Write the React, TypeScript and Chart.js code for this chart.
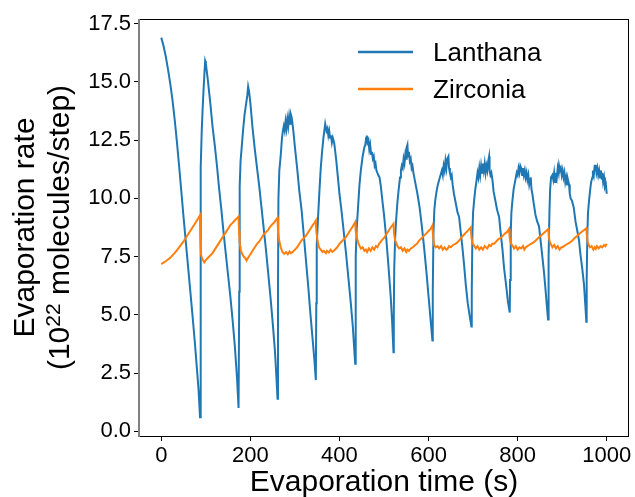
import React, { useEffect, useRef } from "react";
import { Chart, registerables } from "chart.js";

Chart.register(...registerables);

const lanthanaTime = [
  0, 5, 10, 15, 20, 25, 30, 35, 40, 45, 50, 55, 60, 65, 70, 75, 80, 84, 87,
  88, 89, 91, 93, 95, 97, 98.5,
  100, 105, 110, 115, 120, 125, 130, 135, 140, 145, 150, 155, 160, 165, 170, 173.5,
  175, 176, 178, 181, 184, 187, 190, 193, 195,
  197, 200, 205, 210, 215, 220, 225, 230, 235, 240, 245, 250, 255, 258, 261,
  262, 263, 265, 268, 271, 273, 275, 277, 279, 281, 283, 285, 287, 289, 291, 292.5,
  294, 297, 300, 305, 310, 315, 320, 325, 330, 335, 340, 344, 347,
  348, 349, 352, 355, 358, 361, 364, 366, 368, 369.5, 371, 373, 375, 377, 379, 381, 383, 385, 388,
  390, 393, 396, 400, 405, 410, 415, 420, 425, 430, 433, 435.3,
  436, 437, 439, 442, 445, 448, 450, 452, 454, 456, 458, 460, 461.5, 463, 465, 467, 469, 471, 473, 475, 477, 479, 481, 483, 485, 487,
  490, 493, 497, 500, 505, 510, 515, 518, 521.3,
  522, 523, 525, 527, 530, 533, 536, 538, 540, 542, 544, 546, 548, 550, 551, 552.6, 554, 556, 558, 560, 562, 564, 566, 568, 570, 572,
  575, 580, 585, 590, 595, 600, 605, 608.7,
  609.5, 611, 613, 615, 618, 621, 624, 627, 630, 632, 634, 636, 638, 640, 642, 644.6, 646, 648, 650, 652, 654,
  657, 661, 665, 668.6, 672, 676, 680, 683.6, 688, 692, 696.2,
  697, 698.5, 700, 702.3, 705, 708, 710, 712, 714, 716, 718, 720, 722, 724, 726, 728, 730, 732, 734, 735.9, 737, 739, 741, 743.4,
  746, 750, 754, 758.4, 762, 766, 769.6, 774, 778, 782.3,
  783, 784.5, 786, 788.3, 791, 794, 796, 798, 800, 802, 804, 806, 808, 810, 812, 814, 816, 818, 820, 822, 824, 826, 828, 829.5, 831, 833,
  836, 840, 844, 848, 852, 856, 859.3, 863, 866, 868.3,
  869, 870, 871.5, 873, 875, 878, 880, 882, 884, 886, 888, 890, 892, 893, 895, 897, 899, 901, 903, 905, 907, 909, 911, 913, 915.4, 917, 919,
  922, 926, 930, 934, 937.8, 941, 945, 949, 952, 954.2,
  955, 956.5, 958, 960.3, 963, 965, 967.7, 969, 971, 973, 975.3, 977, 979, 981, 983, 985, 987, 989, 990.2, 992, 994, 996, 998, 1000,
];

const lanthanaRate = [
  16.9, 16.55, 16.1, 15.55, 14.95, 14.25, 13.4, 12.45, 11.4, 10.3, 9.2, 8.15, 7.1, 6.05, 5.0, 3.9, 2.7, 1.7, 0.6,
  5.0, 11.3, 13.0, 13.9, 14.7, 15.4, 15.9,
  15.8, 15.0, 14.1, 13.1, 12.3, 11.4, 10.4, 9.5, 8.5, 7.6, 6.7, 5.8, 4.8, 3.7, 2.3, 1.0,
  6.0, 10.5, 11.6, 12.3, 13.0, 13.6, 14.0, 14.4, 14.8,
  14.6, 14.1, 13.0, 12.1, 11.3, 10.5, 9.6, 8.7, 7.8, 6.8, 5.8, 4.7, 3.5, 2.5, 1.4,
  6.0, 10.0, 11.2, 11.8, 12.6, 12.9, 13.1, 12.9, 13.3, 13.0, 13.4, 13.1, 13.5, 13.2, 13.6, 13.5,
  13.3, 12.8, 12.2, 11.3, 10.3, 9.5, 8.4, 7.3, 6.2, 5.0, 3.9, 3.0, 2.2,
  5.5, 8.0, 9.2, 10.3, 11.3, 12.0, 12.6, 12.9, 13.2, 13.2, 12.9, 13.0, 12.7, 12.9, 12.6, 12.7, 12.4, 12.6, 12.4,
  12.1, 11.6, 11.0, 10.2, 9.4, 8.5, 7.6, 6.6, 5.6, 4.5, 3.6, 2.9,
  5.0, 7.5, 8.8, 9.7, 10.6, 11.2, 11.5, 11.8, 12.0, 12.2, 12.3, 12.6, 12.7, 12.4, 12.5, 12.1, 12.3, 11.9, 12.0, 11.7, 11.8, 11.4, 11.5, 11.2, 11.1, 11.0,
  10.9, 10.5, 9.8, 9.3, 8.3, 7.1, 5.8, 4.8, 3.4,
  5.0, 7.0, 8.3, 9.0, 9.8, 10.4, 10.9, 11.2, 11.4, 11.3, 11.7, 11.5, 11.9, 11.7, 12.2, 12.3, 11.8, 12.0, 11.6, 11.7, 11.3, 11.4, 11.1, 10.9, 10.7, 10.5,
  10.2, 9.6, 8.8, 7.9, 6.9, 5.8, 4.7, 3.9,
  6.0, 8.5, 9.5, 9.9, 10.3, 10.6, 10.8, 11.0, 11.2, 11.0, 11.4, 11.2, 11.6, 11.3, 11.7, 11.8, 11.3, 11.1, 10.9, 11.0, 10.6,
  10.2, 9.8, 9.4, 9.2, 8.6, 7.9, 7.1, 6.3, 5.5, 5.0, 4.5,
  6.0, 8.5, 9.4, 9.9, 10.4, 10.8, 11.1, 10.9, 11.3, 11.0, 11.4, 11.1, 11.5, 11.2, 11.5, 11.1, 11.4, 11.2, 11.6, 11.8, 11.2, 11.0, 11.1, 10.8,
  10.3, 9.9, 9.5, 9.2, 8.5, 7.8, 7.0, 6.3, 5.6, 5.1,
  6.5, 8.5, 9.4, 9.9, 10.4, 10.7, 10.9, 11.1, 11.0, 11.3, 11.1, 11.4, 11.3, 11.0, 11.3, 11.0, 11.2, 10.9, 11.1, 10.8, 11.0, 10.6, 10.8, 10.9, 10.4, 10.2,
  9.8, 9.3, 9.0, 8.8, 8.1, 7.4, 6.8, 6.0, 5.3, 4.8,
  6.5, 7.5, 9.5, 10.4, 10.9, 11.0, 10.8, 11.1, 10.7, 11.1, 10.9, 11.3, 11.1, 11.4, 11.2, 11.3, 11.0, 11.2, 10.9, 11.1, 10.7, 10.9, 10.6, 10.8, 10.6, 10.2, 10.0,
  9.9, 9.6, 9.0, 8.6, 8.2, 7.6, 7.0, 6.3, 5.4, 4.7,
  6.5, 8.5, 9.4, 9.9, 10.4, 10.7, 10.9, 11.2, 11.0, 11.4, 11.4, 11.1, 11.3, 11.0, 11.2, 10.9, 11.2, 10.8, 11.1, 10.7, 10.9, 10.5, 10.6, 10.2,
];

const zirconiaTime = [
  0, 10, 20, 30, 40, 50, 60, 70, 80, 86.8,
  87.5, 89, 92, 96.5,
  100, 105, 110, 115, 120, 125, 130, 135, 140, 145, 150, 155, 160, 165, 170, 173.5,
  174.5, 176, 178.8, 182, 185, 188, 190, 192,
  195, 200, 205, 210, 215, 220, 225, 230, 235, 240, 245, 250, 255, 261,
  262, 264.7, 268, 272, 276, 280, 284, 288, 291, 294.6,
  300, 305, 310, 315, 320, 325, 330, 335, 340, 344, 347,
  348, 350.7, 354, 358, 362, 365, 369.5, 372, 376, 380, 384, 388,
  395, 400, 405, 410, 414.4, 420, 425, 430, 435.3,
  436.5, 440.5, 444, 448, 452, 456, 459.3, 462, 466, 470, 474, 478, 482, 485.3,
  489, 495, 500, 505, 510, 515, 521.3,
  522.5, 525, 530, 534, 538, 542, 546, 550, 552.6, 556, 560, 565, 570, 574, 578.8,
  585, 590, 595, 600, 605, 608.7,
  610, 612.5, 616, 620, 624, 628, 632, 636, 640, 642.4, 646, 650, 655, 660, 664, 668.6, 675, 680, 685, 690, 694.9,
  696, 698, 702.3, 706, 710, 714, 718, 722, 726, 728.5, 732, 736, 740, 743, 747, 752, 757, 762, 767, 772, 776, 780.8,
  782, 784, 788.3, 792, 796, 800, 804, 808, 812, 815, 818.3, 822, 826, 830, 835, 840.7, 846, 852, 858, 864, 869,
  870, 872, 874.3, 878, 882, 886, 890, 894, 898, 900.4, 904, 908, 912, 917, 922.9, 928, 934, 940, 946, 950, 954.2,
  955.5, 957, 958.8, 962, 966, 970, 973, 975.3, 978, 982, 986, 990, 994, 997, 1000,
];

const zirconiaRate = [
  7.18, 7.3, 7.45, 7.65, 7.9, 8.15, 8.45, 8.75, 9.05, 9.27,
  8.3, 7.6, 7.4, 7.25,
  7.35, 7.45, 7.55, 7.65, 7.8, 7.95, 8.1, 8.25, 8.4, 8.55, 8.7, 8.85, 8.95, 9.05, 9.15, 9.22,
  8.6, 8.1, 7.76, 7.6, 7.5, 7.45, 7.38, 7.35,
  7.45, 7.6, 7.75, 7.9, 8.05, 8.15, 8.3, 8.45, 8.55, 8.65, 8.8, 8.9, 9.0, 9.17,
  8.6, 8.2, 7.9, 7.7, 7.62, 7.7, 7.6, 7.72, 7.65, 7.69,
  7.8, 7.9, 8.05, 8.2, 8.3, 8.4, 8.55, 8.7, 8.85, 8.95, 9.05,
  8.6, 8.2, 7.9, 7.8, 7.7, 7.75, 7.65, 7.75, 7.68, 7.8, 7.7, 7.76,
  7.9, 8.05, 8.15, 8.25, 8.33, 8.5, 8.65, 8.8, 8.98,
  8.6, 8.2, 8.0, 7.85, 7.9, 7.75, 7.8, 7.7, 7.85, 7.75, 7.9, 7.8, 7.95, 7.9,
  8.05, 8.2, 8.3, 8.45, 8.6, 8.75, 8.91,
  8.5, 8.2, 7.97, 7.85, 7.9, 7.75, 7.85, 7.7, 7.8, 7.75, 7.85, 7.9, 8.0, 8.05, 8.19,
  8.3, 8.4, 8.5, 8.6, 8.7, 8.84,
  8.4, 8.0, 7.9, 7.95, 7.85, 7.95, 7.8, 7.9, 7.8, 7.83, 7.95, 7.9, 8.0, 8.05, 8.1, 8.19, 8.35, 8.45, 8.55, 8.65, 8.76,
  8.4, 8.1, 7.97, 7.85, 7.95, 7.8, 7.9, 7.8, 7.95, 7.9, 7.85, 8.0, 7.95, 8.05, 8.05, 8.15, 8.25, 8.3, 8.4, 8.5, 8.55, 8.69,
  8.35, 8.1, 7.97, 7.85, 7.95, 7.8, 7.9, 7.85, 7.95, 7.8, 7.9, 7.95, 8.0, 8.05, 8.1, 8.19, 8.3, 8.4, 8.5, 8.6, 8.69,
  8.35, 8.15, 8.05, 7.9, 8.0, 7.85, 7.95, 7.8, 7.9, 7.9, 7.95, 8.0, 8.05, 8.1, 8.19, 8.3, 8.4, 8.5, 8.6, 8.65, 8.72,
  8.4, 8.15, 8.05, 7.9, 7.95, 7.8, 7.9, 7.83, 7.95, 7.85, 7.95, 7.9, 8.0, 7.95, 8.05,
];

const xTickValues = [0, 200, 400, 600, 800, 1000];
const yTickValues = [0, 2.5, 5, 7.5, 10, 12.5, 15, 17.5];
const seriesNames = ["Lanthana", "Zirconia"];
const seriesColors = ["#1f77b4", "#ff7f0e"];
const xTitle = "Evaporation time (s)";
const yTitleLine1 = "Evaporation rate";

const FONT = "'Liberation Sans', Arial, Helvetica, sans-serif";

const overlayPlugin = {
  id: "overlay",
  afterDraw(chart: any) {
    const ctx = chart.ctx as CanvasRenderingContext2D;
    const a = chart.chartArea;
    ctx.save();
    // spines
    ctx.lineWidth = 1;
    ctx.strokeStyle = "#000";
    ctx.beginPath();
    ctx.moveTo(a.left, a.top + 0.5);
    ctx.lineTo(a.right, a.top + 0.5);
    ctx.moveTo(a.right - 0.5, a.top);
    ctx.lineTo(a.right - 0.5, a.bottom);
    ctx.moveTo(a.left, a.bottom + 0.5);
    ctx.lineTo(a.right, a.bottom + 0.5);
    ctx.stroke();
    ctx.strokeStyle = "#808080";
    ctx.lineWidth = 2;
    ctx.beginPath();
    ctx.moveTo(a.left, a.top);
    ctx.lineTo(a.left, a.bottom + 1);
    ctx.stroke();

    // x title
    ctx.fillStyle = "#000";
    ctx.font = `30px ${FONT}`;
    ctx.textAlign = "center";
    ctx.textBaseline = "alphabetic";
    ctx.fillText(xTitle, (a.left + a.right) / 2, 491);

    // y title
    const cy = (a.top + a.bottom) / 2;
    ctx.save();
    ctx.translate(0, cy);
    ctx.rotate(-Math.PI / 2);
    ctx.textAlign = "center";
    ctx.font = `30px ${FONT}`;
    ctx.fillText(yTitleLine1, 0, 34);
    const p1 = "(10";
    const p2 = "22";
    const p3 = " molecules/step)";
    ctx.font = `30px ${FONT}`;
    const w1 = ctx.measureText(p1).width;
    const w3 = ctx.measureText(p3).width;
    ctx.font = `21px ${FONT}`;
    const w2 = ctx.measureText(p2).width;
    let sx = -(w1 + w2 + w3) / 2;
    ctx.textAlign = "left";
    ctx.font = `30px ${FONT}`;
    ctx.fillText(p1, sx, 69);
    sx += w1;
    ctx.font = `21px ${FONT}`;
    ctx.fillText(p2, sx, 60);
    sx += w2;
    ctx.font = `30px ${FONT}`;
    ctx.fillText(p3, sx, 69);
    ctx.restore();

    // legend
    const ly = [52, 89];
    for (let i = 0; i < 2; i++) {
      ctx.strokeStyle = seriesColors[i];
      ctx.lineWidth = 2.5;
      ctx.beginPath();
      ctx.moveTo(358, ly[i]);
      ctx.lineTo(413, ly[i]);
      ctx.stroke();
      ctx.fillStyle = "#000";
      ctx.font = `26px ${FONT}`;
      ctx.textAlign = "left";
      ctx.textBaseline = "alphabetic";
      ctx.fillText(seriesNames[i], 433, ly[i] + 9);
    }
    ctx.restore();
  },
};

export default function App() {
  const ref = useRef<HTMLCanvasElement | null>(null);
  useEffect(() => {
    document.body.style.margin = "0";
    const canvas = ref.current;
    if (!canvas) return;
    const lanthana = lanthanaTime.map((t, i) => ({ x: t, y: lanthanaRate[i] }));
    const zirconia = zirconiaTime.map((t, i) => ({ x: t, y: zirconiaRate[i] }));
    const chart = new Chart(canvas, {
      type: "line",
      data: {
        datasets: [
          {
            label: seriesNames[0],
            data: lanthana,
            borderColor: seriesColors[0],
            backgroundColor: seriesColors[0],
            borderWidth: 2,
            pointRadius: 0,
            tension: 0,
            order: 2,
          },
          {
            label: seriesNames[1],
            data: zirconia,
            borderColor: seriesColors[1],
            backgroundColor: seriesColors[1],
            borderWidth: 2,
            pointRadius: 0,
            tension: 0,
            order: 1,
          },
        ],
      },
      options: {
        animation: false,
        responsive: false,
        devicePixelRatio: 1,
        layout: { padding: { left: 0, right: 6, top: 19, bottom: 0 } },
        plugins: {
          legend: { display: false },
          tooltip: { enabled: false },
          title: { display: false },
        },
        scales: {
          x: {
            type: "linear",
            min: -50,
            max: 1050,
            afterFit: (s: any) => {
              s.height = 61;
            },
            afterBuildTicks: (s: any) => {
              s.ticks = xTickValues.map((v) => ({ value: v }));
            },
            border: { display: false },
            grid: {
              drawOnChartArea: false,
              drawTicks: true,
              tickLength: 5,
              color: "#000",
            },
            ticks: {
              font: { family: FONT, size: 22 },
              color: "#000",
              padding: 2,
              maxRotation: 0,
              callback: (v: any) => String(v),
            },
          },
          y: {
            type: "linear",
            min: -0.2,
            max: 17.7,
            afterFit: (s: any) => {
              s.width = 139;
            },
            afterBuildTicks: (s: any) => {
              s.ticks = yTickValues.map((v) => ({ value: v }));
            },
            border: { display: false },
            grid: {
              drawOnChartArea: false,
              drawTicks: true,
              tickLength: 5,
              color: "#000",
            },
            ticks: {
              font: { family: FONT, size: 22 },
              color: "#000",
              padding: 3,
              callback: (v: any) => Number(v).toFixed(1),
            },
          },
        },
      },
      plugins: [overlayPlugin],
    });
    return () => chart.destroy();
  }, []);
  return (
    <div style={{ width: 635, height: 497 }}>
      <canvas ref={ref} width={635} height={497} style={{ width: 635, height: 497 }} />
    </div>
  );
}
